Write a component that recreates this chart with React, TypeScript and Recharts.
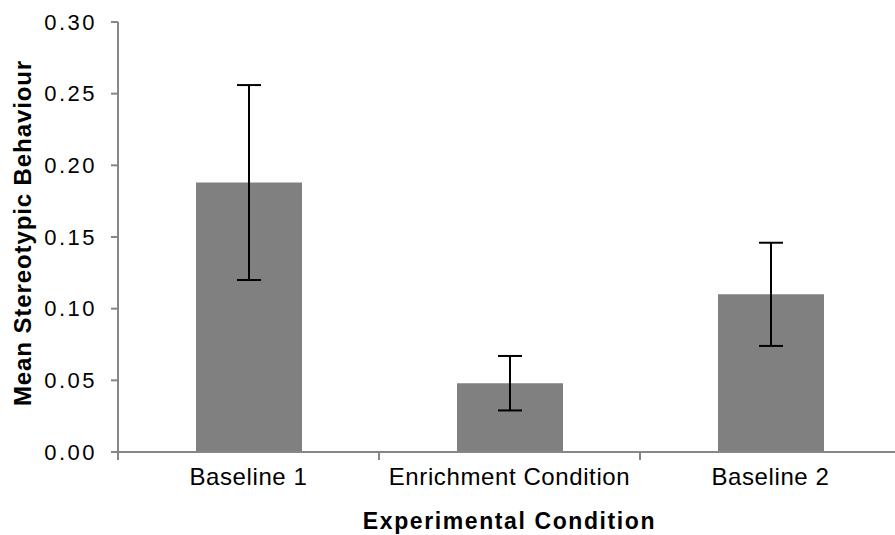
import { BarChart, Bar, XAxis, YAxis, ErrorBar, Label } from 'recharts';

const conditions = ['Baseline 1', 'Enrichment Condition', 'Baseline 2'];
const meanValues = [0.188, 0.048, 0.11];
const errorValues = [0.068, 0.019, 0.036];
const yTicks = [0, 0.05, 0.1, 0.15, 0.2, 0.25, 0.3];

const data = conditions.map((name, i) => ({
  name,
  mean: meanValues[i],
  err: errorValues[i],
}));

const axisColor = '#868686';
const font = '"Liberation Sans", Arial, sans-serif';
const xTickMargin = 15;

// category axis: tick marks sit on the category boundaries, not the centres
function CategoryTick(props: any) {
  const { x, y, payload } = props;
  const half = payload && payload.offset ? payload.offset : 130.5;
  const axisY = y - xTickMargin;
  return (
    <g>
      <line x1={x - half} y1={axisY} x2={x - half} y2={axisY + 8} stroke={axisColor} strokeWidth={2} />
      <text
        x={x}
        y={y + 1}
        dy="0.71em"
        textAnchor="middle"
        fill="#000"
        fontSize={24}
        fontFamily={font}
        letterSpacing={0.6}
      >
        {payload.value}
      </text>
    </g>
  );
}

function YTitle(props: any) {
  const cy = props.viewBox ? props.viewBox.y + props.viewBox.height / 2 - 4 : 233;
  return (
    <text
      x={31}
      y={cy}
      transform={`rotate(-90 31 ${cy})`}
      textAnchor="middle"
      fontSize={24}
      fontWeight="bold"
      fontFamily={font}
      letterSpacing={0.9}
      fill="#000"
    >
      Mean Stereotypic Behaviour
    </text>
  );
}

export default function App() {
  return (
    <div style={{ position: 'absolute', left: 0, top: 0, width: 895, height: 535, overflow: 'hidden', background: '#fff' }}>
      <BarChart
        width={901}
        height={535}
        data={data}
        margin={{ top: 22, right: 0, bottom: 0, left: 0 }}
        barSize={106}
      >
        <XAxis
          dataKey="name"
          height={83}
          axisLine={{ stroke: axisColor, strokeWidth: 2 }}
          tickLine={false}
          tickSize={0}
          tickMargin={xTickMargin}
          tick={<CategoryTick />}
        >
          <Label
            value="Experimental Condition"
            position="insideBottom"
            offset={6}
            fontSize={23}
            fontWeight="bold"
            fontFamily={font}
            letterSpacing={1.6}
            fill="#000"
          />
        </XAxis>
        <YAxis
          width={118}
          domain={[0, 0.3]}
          ticks={yTicks}
          interval={0}
          tickFormatter={(v: number) => v.toFixed(2)}
          axisLine={{ stroke: axisColor, strokeWidth: 2 }}
          tickLine={{ stroke: axisColor, strokeWidth: 2 }}
          tickSize={7}
          tickMargin={14}
          tick={{ fill: '#000', fontSize: 22, fontFamily: font, letterSpacing: 2.5 }}
        >
          <Label content={<YTitle />} />
        </YAxis>
        <Bar dataKey="mean" fill="#808080" isAnimationActive={false}>
          <ErrorBar dataKey="err" width={12} strokeWidth={2} stroke="#000" direction="y" />
        </Bar>
      </BarChart>
    </div>
  );
}
